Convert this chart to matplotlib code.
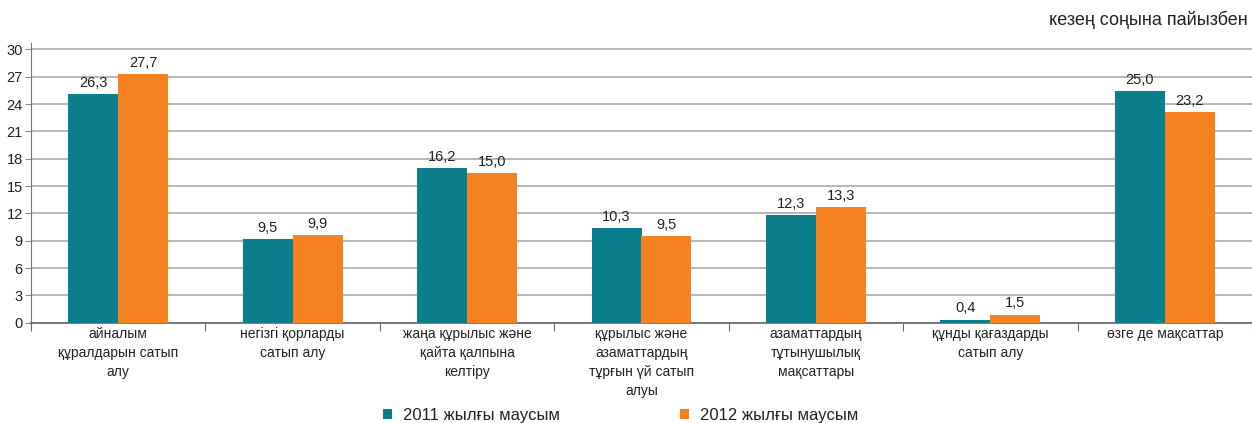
import numpy as np
import matplotlib
matplotlib.use("Agg")
import matplotlib.pyplot as plt

# Categories (x axis)
categories = [
    "айналым\nқұралдарын сатып\nалу",
    "негізгі қорларды\nсатып алу",
    "жаңа құрылыс және\nқайта қалпына\nкелтіру",
    "құрылыс және\nазаматтардың\nтұрғын үй сатып\nалуы",
    "азаматтардың\nтұтынушылық\nмақсаттары",
    "құнды қағаздарды\nсатып алу",
    "өзге де мақсаттар",
]

# Bar heights as drawn in the picture
values_2011 = [25.1, 9.2, 17.0, 10.4, 11.8, 0.35, 25.4]
values_2012 = [27.3, 9.6, 16.4, 9.5, 12.7, 0.9, 23.1]

# Value labels as printed above the bars
labels_2011 = ["26,3", "9,5", "16,2", "10,3", "12,3", "0,4", "25,0"]
labels_2012 = ["27,7", "9,9", "15,0", "9,5", "13,3", "1,5", "23,2"]

series_names = ["2011 жылғы маусым", "2012 жылғы маусым"]
yticks = list(range(0, 31, 3))

TEAL = "#0b7f8e"
ORANGE = "#f58220"
TEXT = "#222222"

plt.rcParams["font.family"] = ["Liberation Sans", "DejaVu Sans"]

fig = plt.figure(figsize=(12.52, 4.23), dpi=100)
ax = fig.add_axes([31 / 1252, 1 - 322.7 / 423, 1221 / 1252, (322.7 - 43) / 423])

x = np.arange(len(categories))
w = 0.286
b1 = ax.bar(x - w / 2, values_2011, width=w, color=TEAL, zorder=3, label=series_names[0])
b2 = ax.bar(x + w / 2, values_2012, width=w, color=ORANGE, zorder=3, label=series_names[1])

for bars, labs in ((b1, labels_2011), (b2, labels_2012)):
    for rect, lab in zip(bars, labs):
        ax.annotate(lab, (rect.get_x() + rect.get_width() / 2, rect.get_height()),
                    xytext=(0, 3), textcoords="offset points",
                    ha="center", va="bottom", fontsize=10.5, color=TEXT)

ax.set_xlim(-0.5, len(categories) - 0.5)
ax.set_ylim(0, 30.7)
ax.set_yticks(yticks)
ax.tick_params(axis="y", labelsize=10.5, labelcolor=TEXT, length=4, color="#888888", pad=2)
ax.yaxis.grid(True, color="#aaaaaa", linewidth=1.2, zorder=0)
ax.set_axisbelow(True)

# category boundary ticks on x axis, labels at centers
ax.set_xticks(np.arange(len(categories) + 1) - 0.5)
ax.set_xticklabels([])
ax.tick_params(axis="x", which="major", length=6, color="#666666")
ax.set_xticks(x, minor=True)
ax.set_xticklabels(categories, minor=True, fontsize=10, color=TEXT, linespacing=1.45)
ax.tick_params(axis="x", which="minor", length=0, pad=3)

for side in ("top", "right"):
    ax.spines[side].set_visible(False)
ax.spines["left"].set_color("#777777")
ax.spines["bottom"].set_color("#666666")
ax.spines["bottom"].set_linewidth(1.2)

fig.text(1248 / 1252, 1 - 20 / 423, "кезең соңына пайызбен", ha="right", va="center",
         fontsize=13, color=TEXT)

fig.legend(handles=[b1, b2], loc="center", bbox_to_anchor=(621 / 1252, 1 - 415 / 423),
           ncol=2, frameon=False, fontsize=12, handlelength=0.55, handleheight=0.55,
           handletextpad=0.66, columnspacing=7.2, labelcolor=TEXT)

fig.savefig("out.png", dpi=100)
